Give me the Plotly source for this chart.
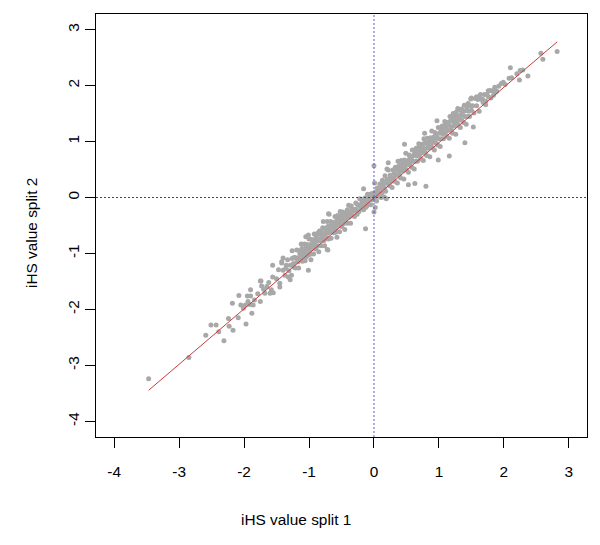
import plotly.graph_objects as go

# ---- data ----
lower_tail = [(-3.47,-3.24),(-2.85,-2.86),(-2.59,-2.46),(-2.51,-2.28),(-2.43,-2.28),(-2.39,-2.40),
    (-2.31,-2.56),(-2.24,-2.16),(-2.23,-2.30),(-2.18,-1.89),(-2.17,-2.37),(-2.08,-1.75),(-2.09,-2.15),
    (-1.97,-2.26),(-2.05,-1.92),(-1.95,-1.76),(-1.90,-1.76),(-1.98,-1.92),(-1.91,-1.91),(-1.86,-1.92),
    (-1.88,-2.07),(-1.75,-1.49),(-1.73,-1.58),(-1.75,-1.86),(-1.65,-1.59),(-1.58,-1.65),(-1.68,-1.71),
    (-1.60,-1.71),(-1.55,-1.70),(-1.56,-1.21),(-1.84,-1.83),(-1.79,-1.72),(-1.70,-1.64),(-1.62,-1.52),
    (-2.01,-1.98),(-1.94,-1.86),(-1.90,-1.65),(-1.56,-1.42),(-1.45,-1.60),(-1.29,-1.47),(-1.40,-1.08),
    (-1.42,-1.17),(-1.74,-1.49)]

lower_band = [(-1.50,-1.45),(-1.47,-1.29),(-1.45,-1.53),(-1.42,-1.15),(-1.40,-1.30),(-1.37,-1.39),
    (-1.35,-1.21),(-1.33,-1.11),(-1.31,-1.31),(-1.29,-1.21),(-1.27,-1.39),(-1.26,-0.95),(-1.24,-1.18),
    (-1.23,-1.07),(-1.21,-1.26),(-1.20,-1.08),(-1.19,-0.94),(-1.18,-1.15),(-1.17,-1.08),(-1.16,-1.26),
    (-1.15,-0.95),(-1.14,-1.01),(-1.13,-1.12),(-1.12,-0.83),(-1.11,-1.04),(-1.10,-1.14),(-1.09,-0.92),
    (-1.08,-0.97),(-1.07,-0.83),(-1.06,-1.13),(-1.05,-1.01),(-1.04,-0.89),(-1.03,-0.84),(-1.02,-1.03),
    (-1.01,-0.92),(-1.00,-0.74),(-0.99,-0.97),(-0.98,-0.85),(-0.97,-1.11),(-0.96,-0.75),(-0.95,-0.90),
    (-0.94,-0.76),(-0.93,-1.01),(-0.92,-0.65),(-0.91,-0.81),(-0.90,-0.92),(-0.89,-0.75),(-0.88,-0.66),
    (-0.87,-0.87),(-0.86,-0.78),(-0.85,-0.97),(-0.84,-0.60),(-0.83,-0.77),(-0.82,-0.66),(-0.81,-0.86),
    (-0.80,-0.68),(-0.79,-0.54),(-0.78,-0.75),(-0.77,-0.68),(-0.76,-0.86),(-0.75,-0.55),(-0.74,-0.61),
    (-0.73,-0.72),(-0.72,-0.43),(-0.71,-0.64),(-0.70,-0.74),(-0.69,-0.52),(-0.68,-0.57),(-0.67,-0.43),
    (-0.66,-0.73),(-0.65,-0.61),(-0.64,-0.49),(-0.63,-0.44),(-0.62,-0.63),(-0.61,-0.52),(-0.60,-0.34),
    (-0.59,-0.57),(-0.58,-0.45),(-0.57,-0.71),(-0.56,-0.35),(-0.55,-0.50),(-0.54,-0.36),(-0.53,-0.61),
    (-0.52,-0.25),(-0.51,-0.41),(-0.50,-0.52),(-0.49,-0.35),(-0.48,-0.26),(-0.47,-0.47),(-0.46,-0.38),
    (-0.45,-0.57),(-0.44,-0.28),(-0.43,-0.37),(-0.42,-0.26),(-0.41,-0.46),(-0.40,-0.28),(-0.39,-0.14),
    (-0.38,-0.35),(-0.37,-0.28),(-0.36,-0.46),(-0.35,-0.15),(-0.34,-0.21),(-0.33,-0.32),(-0.32,-0.22),
    (-0.31,-0.24),(-0.30,-0.34),
    (-1.19,-1.09),(-1.15,-1.13),(-1.11,-0.91),(-1.07,-1.00),(-1.03,-0.88),(-0.99,-1.02),(-0.95,-0.83),
    (-0.91,-0.86),(-0.87,-0.64),(-0.83,-0.74),(-0.79,-0.64),(-0.75,-0.73),(-0.71,-0.52),(-0.67,-0.61),
    (-0.63,-0.52),(-0.59,-0.62),(-0.55,-0.41),(-0.51,-0.47),(-0.47,-0.29),(-0.43,-0.35),(-0.39,-0.27),
    (-0.35,-0.32),(-1.01,-1.30),(-1.05,-0.70),(-1.01,-0.67),(-0.72,-0.93),(-0.78,-0.43),(-0.70,-0.29),
    (-0.69,-0.30),(-0.56,-0.32),(-0.71,-0.94),(-1.09,-1.12),(-1.17,-1.15),(-1.23,-1.24),(-1.26,-1.09),
    (-1.22,-1.07),(-1.36,-1.27),(-1.32,-1.42),(-1.04,-1.06),
    (-1.13,-0.98),(-1.05,-0.93),(-0.97,-0.84),(-0.89,-0.70),(-0.81,-0.61),(-0.73,-0.56),(-0.65,-0.47),
    (-0.57,-0.40),(-0.49,-0.30),(-0.41,-0.22),(-1.09,-0.99),(-0.93,-0.88),(-0.77,-0.77),(-0.61,-0.58),
    (-0.45,-0.43)]

center = [(-0.29,-0.21),(-0.28,-0.10),(-0.26,-0.30),(-0.24,-0.14),(-0.22,-0.02),(-0.20,-0.18),
    (-0.18,-0.09),(-0.16,-0.22),(-0.14,-0.01),(-0.12,-0.08),(-0.10,0.06),(-0.09,-0.12),(-0.08,-0.01),
    (-0.06,0.06),(-0.05,-0.13),(-0.04,-0.01),(-0.03,0.07),(-0.02,-0.04),(-0.01,0.04),(0.00,0.01),
    (0.01,-0.04),(0.02,0.10),(0.03,0.03),(0.04,-0.06),(0.05,0.17),(0.06,0.10),(0.08,0.02),(0.09,0.24),
    (0.10,0.16),(0.12,0.08),(0.13,0.31),(0.14,0.23),(0.16,0.17),(0.17,0.39),(0.18,0.11),(0.20,0.32),
    (0.21,0.25),(0.22,0.49),(0.24,0.21),(0.25,0.40),(0.26,0.34),(0.28,0.18),(0.29,0.49),(0.30,0.35),
    (-0.27,-0.22),(-0.25,-0.13),(-0.23,-0.25),(-0.21,-0.13),(-0.19,-0.04),(-0.17,-0.17),(-0.15,-0.09),
    (-0.13,-0.18),(-0.13,-0.56),(-0.16,0.155),(0.00,0.57),(0.01,0.26),(0.00,-0.26),(0.02,-0.18),
    (0.11,0.00),(0.16,0.01),(0.19,-0.02),(0.22,0.62),(0.20,0.51),
    (0.07,0.12),(0.15,0.26),(0.23,0.33),(0.27,0.29),(-0.07,-0.04),(-0.11,-0.15)]

upper_band = [(0.31,0.43),(0.32,0.29),(0.33,0.54),(0.34,0.40),(0.35,0.50),(0.36,0.26),(0.37,0.65),
    (0.38,0.47),(0.39,0.41),(0.40,0.58),(0.41,0.35),(0.42,0.66),(0.43,0.54),(0.44,0.48),(0.45,0.61),
    (0.46,0.33),(0.47,0.67),(0.48,0.55),(0.49,0.79),(0.50,0.49),(0.51,0.64),(0.52,0.60),(0.53,0.45),
    (0.54,0.76),(0.55,0.58),(0.56,0.73),(0.57,0.67),(0.58,0.54),(0.59,0.85),(0.60,0.65),(0.61,0.75),
    (0.62,0.51),(0.63,0.82),(0.64,0.65),(0.65,0.88),(0.66,0.74),(0.67,0.65),(0.68,0.84),(0.69,0.96),
    (0.70,0.76),(0.71,0.83),(0.72,0.69),(0.73,0.94),(0.74,0.80),(0.75,0.90),(0.76,0.66),(0.77,1.05),
    (0.78,0.87),(0.79,0.81),(0.80,0.98),(0.81,0.75),(0.82,1.06),(0.83,0.94),(0.84,0.88),(0.85,1.01),
    (0.86,0.73),(0.87,1.07),(0.88,0.95),(0.89,1.19),(0.90,0.89),(0.91,1.04),(0.92,1.00),(0.93,0.85),
    (0.94,1.16),(0.95,0.98),(0.96,1.13),(0.97,1.07),(0.98,0.94),(0.99,1.25),(1.00,1.05),(1.01,1.15),
    (1.02,0.91),(1.03,1.22),(1.04,1.05),(1.05,1.28),(1.06,1.14),(1.07,1.05),(1.08,1.24),(1.09,1.36),
    (1.10,1.16),(1.11,1.23),(1.12,1.09),(1.13,1.34),(1.14,1.20),(1.15,1.30),(1.16,1.06),(1.17,1.45),
    (1.18,1.27),(1.19,1.21),(1.20,1.38),(1.21,1.15),(1.22,1.46),(1.23,1.34),(1.24,1.28),(1.25,1.41),
    (1.26,1.13),(1.27,1.47),(1.28,1.35),(1.29,1.59),(1.30,1.29),(1.31,1.44),(1.32,1.40),(1.33,1.25),
    (1.34,1.56),(1.35,1.38),(1.36,1.53),(1.37,1.47),(1.38,1.34),(1.39,1.65),(1.40,1.45),(1.41,1.55),
    (1.42,1.31),(1.43,1.62),(1.44,1.45),(1.45,1.68),(1.46,1.54),(1.47,1.45),(1.48,1.64),(1.49,1.76),
    (1.50,1.56),(1.52,1.64),(1.54,1.51),(1.56,1.77),(1.58,1.64),(1.60,1.75),(1.62,1.54),(1.64,1.84),
    (1.66,1.75),(1.68,1.70),(1.70,1.84),(1.72,1.66),(1.74,1.84),(1.76,1.80),(1.78,1.91),(1.80,1.78),
    (1.83,1.91),(1.86,1.97),(1.89,1.90),(1.92,1.99),
    (1.40,0.98),(1.16,0.74),(0.99,0.67),(0.80,0.20),(0.63,0.25),(0.53,0.23),(0.47,0.95),(0.97,1.37),
    (0.78,1.15),(1.22,1.50),(1.27,1.53),(1.35,1.58),(1.45,1.65),(1.50,1.78),(1.58,1.80),(1.62,1.78),
    (1.67,1.76),(1.72,1.72),(1.80,1.91),(1.84,1.83),(1.53,1.26),(0.56,0.64),(0.66,0.81),(0.86,0.97),
    (1.04,1.18),(1.12,1.31),(0.92,1.08),(0.72,0.86),
    (0.38,0.56),(0.46,0.62),(0.54,0.68),(0.62,0.77),(0.70,0.90),(0.78,0.97),(0.86,1.04),(0.94,1.06),
    (1.02,1.16),(1.10,1.30),(1.18,1.37),(1.26,1.43),(1.34,1.48),(0.42,0.52),(0.58,0.72),(0.74,0.95)]

upper_tail = [(2.82,2.61),(2.57,2.58),(2.60,2.47),(2.10,2.32),(2.25,2.27),(2.37,2.17),(2.24,2.10),
    (2.20,2.21),(1.99,2.06),(2.08,2.13),(1.87,1.88),(1.76,1.91),(2.29,2.28),(2.02,2.02),(2.12,2.14),
    (1.96,2.04)]

fit_intercept = -0.01
fit_slope = 0.99

x_ticks = [-4, -3, -2, -1, 0, 1, 2, 3]
y_ticks = [-4, -3, -2, -1, 0, 1, 2, 3]
x_title = "iHS value split 1"
y_title = "iHS value split 2"

# ---- build ----
points = lower_tail + lower_band + center + upper_band + upper_tail
split1 = [p[0] for p in points]
split2 = [p[1] for p in points]

FONT = "Liberation Sans, Arial, sans-serif"
FS = 15.4
fig = go.Figure()
fig.add_trace(go.Scatter(x=split1, y=split2, mode="markers",
                         marker=dict(size=5, color="#A8A8A8", line=dict(width=0)),
                         hoverinfo="skip"))
xmin, xmax = min(split1), max(split1)
fig.add_trace(go.Scatter(x=[xmin, xmax],
                         y=[fit_intercept + fit_slope * xmin, fit_intercept + fit_slope * xmax],
                         mode="lines", line=dict(color="#CC3B3B", width=1), hoverinfo="skip"))

fig.add_shape(type="line", xref="paper", yref="y", x0=0, x1=1, y0=0, y1=0,
              line=dict(color="#3434D0", width=1, dash="2px,2px"), layer="above")
fig.add_shape(type="line", xref="x", yref="paper", x0=0, x1=0, y0=0, y1=1,
              line=dict(color="#5858D8", width=1, dash="2px,2px"), layer="above")

axis_common = dict(range=[-4.28, 3.28], showgrid=False, zeroline=False, automargin=False,
                   showline=True, linecolor="black", linewidth=1, mirror=True,
                   ticks="outside", ticklen=10, tickcolor="black", tickwidth=1,
                   tickfont=dict(family=FONT, size=FS, color="black"))
fig.update_xaxes(tickvals=x_ticks, ticktext=[str(v) for v in x_ticks],
                 ticklabelstandoff=11, **axis_common)
fig.update_yaxes(tickvals=y_ticks, ticktext=[str(v) for v in y_ticks],
                 tickangle=-90, ticklabelstandoff=0, **axis_common)

fig.add_annotation(text=x_title, xref="paper", yref="paper", x=(296 - 96) / 491, y=(437 - 519) / 423,
                   xanchor="center", yanchor="middle", showarrow=False,
                   font=dict(family=FONT, size=FS, color="black"))
fig.add_annotation(text=y_title, xref="paper", yref="paper", x=(31 - 96) / 491, y=(437 - 233) / 423,
                   xanchor="center", yanchor="middle", showarrow=False, textangle=-90,
                   font=dict(family=FONT, size=FS, color="black"))

fig.update_layout(width=600, height=545, showlegend=False,
                  margin=dict(l=96, r=13, t=14, b=108),
                  paper_bgcolor="white", plot_bgcolor="white")
fig.write_html("out.html", config={"displayModeBar": False},
               post_script="document.body.style.margin='0';document.body.style.overflow='hidden';")
